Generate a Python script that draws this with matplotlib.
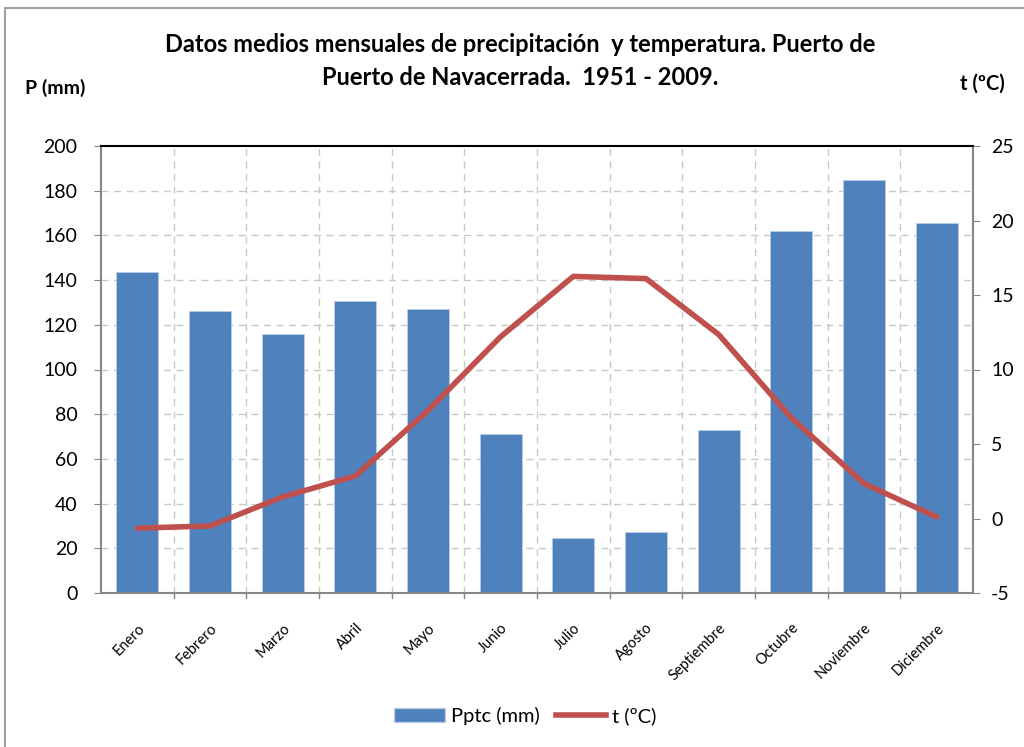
import matplotlib
matplotlib.use("Agg")
import matplotlib.pyplot as plt
from matplotlib.lines import Line2D
from matplotlib.patches import Patch

# ─────────────────────────────────────────
# DATA
# ─────────────────────────────────────────
meses = ["Enero", "Febrero", "Marzo", "Abril", "Mayo", "Junio", "Julio",
         "Agosto", "Septiembre", "Octubre", "Noviembre", "Diciembre"]
pptc = [143.8, 126.3, 115.9, 130.5, 127.0, 71.0, 24.5, 27.4, 72.9, 162.1, 184.9, 165.5]
temp = [-0.65, -0.5, 1.45, 2.85, 7.25, 12.2, 16.25, 16.1, 12.35, 6.75, 2.35, 0.1]

p_ticks = [0, 20, 40, 60, 80, 100, 120, 140, 160, 180, 200]
t_ticks = [-5, 0, 5, 10, 15, 20, 25]

titulo = "Datos medios mensuales de precipitación  y temperatura. Puerto de\nPuerto de Navacerrada.  1951 - 2009."

BAR_COLOR = "#4F81BD"
LINE_COLOR = "#C0504D"
GRID_COLOR = "#C8C8C8"
AXIS_COLOR = "#868686"

plt.rcParams["font.family"] = ["Lato", "DejaVu Sans"]
plt.rcParams["axes.unicode_minus"] = False

# ─────────────────────────────────────────
# FIGURE
# ─────────────────────────────────────────
fig = plt.figure(figsize=(10.24, 7.47), dpi=100)
ax = fig.add_axes([101 / 1024, 1 - 593 / 747, (973 - 101) / 1024, (593 - 146) / 747])

# outer frame of the chart
fig.add_artist(plt.Rectangle((5 / 1024, -0.01), 1.02, 1 - 8 / 747 + 0.01,
                             transform=fig.transFigure, fill=False,
                             edgecolor="#A0A0A0", linewidth=1.5))

x = list(range(len(meses)))
ax.bar(x, pptc, width=0.58, color=BAR_COLOR, edgecolor="#B9CDE5",
       linewidth=0.6, zorder=2)
ax.set_xlim(-0.5, len(meses) - 0.5)
ax.set_ylim(0, 200)
ax.set_yticks(p_ticks)
ax.set_xticks(x)
ax.set_xticklabels(meses, rotation=45, ha="right", rotation_mode="anchor",
                   fontsize=10.5)
ax.tick_params(axis="x", length=0, pad=20)
ax.tick_params(axis="y", labelsize=14, direction="out", length=5,
               color=AXIS_COLOR, pad=12)

# category boundary ticks and vertical grid
for b in [i + 0.5 for i in range(len(meses) - 1)]:
    ax.axvline(b, color=GRID_COLOR, linestyle=(0, (5, 4)), linewidth=1, zorder=1)
    ax.plot([b, b], [0, -0.012], transform=ax.get_xaxis_transform(),
            color=AXIS_COLOR, clip_on=False, linewidth=1)
for v in p_ticks[1:-1]:
    ax.axhline(v, color=GRID_COLOR, linestyle=(0, (5, 4)), linewidth=1, zorder=1)

for side in ["left", "bottom", "right"]:
    ax.spines[side].set_color(AXIS_COLOR)
    ax.spines[side].set_linewidth(1.5)
ax.spines["top"].set_color("black")
ax.spines["top"].set_linewidth(1.5)

# temperature on secondary axis
ax2 = ax.twinx()
ax2.plot(x, temp, color=LINE_COLOR, linewidth=4, solid_capstyle="round", zorder=3)
ax2.set_ylim(-5, 25)
ax2.set_yticks(t_ticks)
ax2.tick_params(axis="y", labelsize=14, direction="out", length=5,
                color=AXIS_COLOR, pad=8)
for side in ["left", "bottom", "right", "top"]:
    ax2.spines[side].set_visible(False)

# ─────────────────────────────────────────
# TEXTS
# ─────────────────────────────────────────
fig.text(0.508, 1 - 61 / 747, titulo, ha="center", va="center",
         fontsize=17, fontweight="bold", linespacing=1.5)
fig.text(25 / 1024, 1 - 88 / 747, "P (mm)", ha="left", va="center",
         fontsize=14, fontweight="bold")
fig.text(1005 / 1024, 1 - 84 / 747, "t (ºC)", ha="right", va="center",
         fontsize=14.5, fontweight="bold")

handles = [Patch(facecolor=BAR_COLOR, edgecolor="#B9CDE5"),
           Line2D([0], [0], color=LINE_COLOR, linewidth=4)]
fig.legend(handles, ["Pptc (mm)", "t (ºC)"], loc="center",
           bbox_to_anchor=(0.513, 1 - 716 / 747), ncol=2, frameon=False,
           fontsize=14.5, handlelength=2.5, handletextpad=0.3, columnspacing=0.8)

plt.savefig("out.png", dpi=100)
